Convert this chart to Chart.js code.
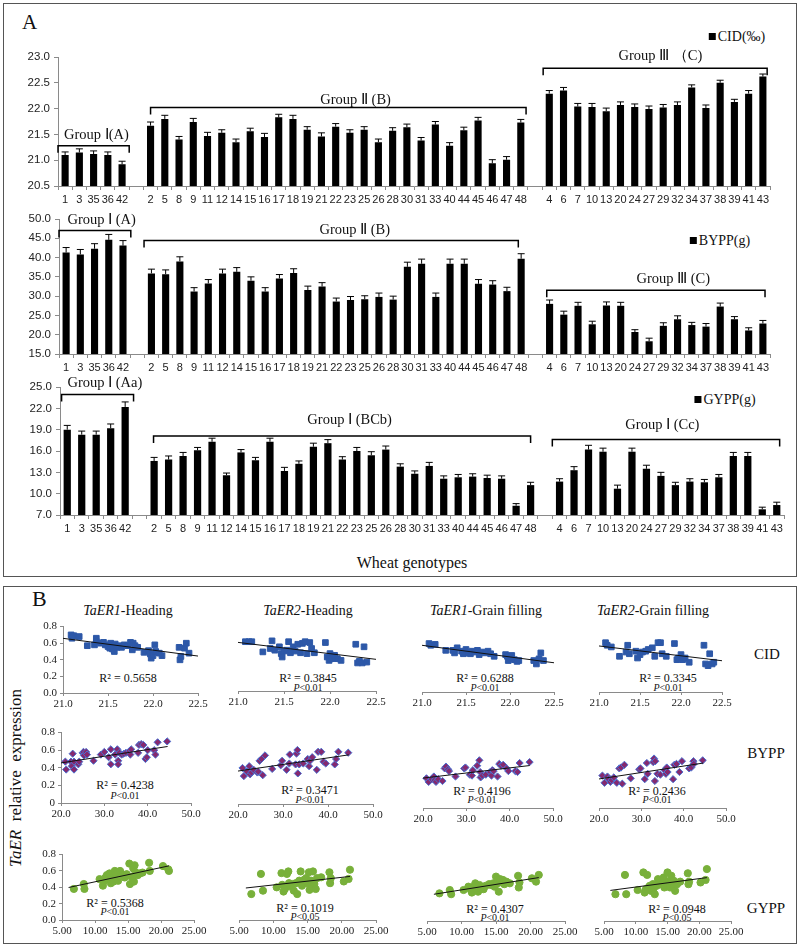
<!DOCTYPE html>
<html>
<head>
<meta charset="utf-8">
<script src="https://cdn.jsdelivr.net/npm/chart.js@4.4.1/dist/chart.umd.min.js"></script>
<style>
body { margin: 0; background: #fff; }
#page { position: relative; width: 800px; height: 947px; font-family: "Liberation Serif", "Times New Roman", serif; color: #111; }
.box { position: absolute; border: 1.5px solid #555; box-sizing: border-box; }
canvas { position: absolute; }
.t { position: absolute; white-space: nowrap; line-height: 1; }
.c { transform: translate(-50%, -50%); }
.sq { display: inline-block; width: 7px; height: 7px; background: #000; margin-right: 2px; vertical-align: 1px; }
.r2 { font-size: 12px; }
.p { font-size: 10px; }
</style>
</head>
<body>
<div id="page">
  <div class="box" style="left:3px;top:3px;width:794px;height:574px"></div>
  <div class="box" style="left:3px;top:586px;width:794px;height:358px"></div>

  <div class="t" style="left:22px;top:12px;font-size:21px">A</div>
  <div class="t" style="left:32px;top:588px;font-size:22px">B</div>

  <div class="t c" style="left:737px;top:37px;font-size:14px"><span class="sq"></span>CID(‰)</div>
  <div class="t c" style="left:720px;top:241px;font-size:14px"><span class="sq"></span>BYPP(g)</div>
  <div class="t c" style="left:725px;top:400px;font-size:14px"><span class="sq"></span>GYPP(g)</div>
  <div class="t c" style="left:412px;top:563px;font-size:16px">Wheat genotypes</div>

  <canvas id="cidBars"></canvas>
  <canvas id="byppBars"></canvas>
  <canvas id="gyppBars"></canvas>

  <!-- panel B -->
  <div class="t c" style="left:128px;top:611px;font-size:14px"><i>TaER1</i>-Heading</div>
  <div class="t c" style="left:308px;top:611px;font-size:14px"><i>TaER2</i>-Heading</div>
  <div class="t c" style="left:486px;top:611px;font-size:14px"><i>TaER1</i>-Grain filling</div>
  <div class="t c" style="left:653px;top:611px;font-size:14px"><i>TaER2</i>-Grain filling</div>

  <div class="t c" style="left:767px;top:654px;font-size:15px">CID</div>
  <div class="t c" style="left:766px;top:753px;font-size:15px">BYPP</div>
  <div class="t c" style="left:766px;top:908px;font-size:15px">GYPP</div>

  <div class="t" style="left:15px;top:778px;font-size:17px;transform:translate(-50%,-50%) rotate(-90deg)"><i>TaER</i>&nbsp; relative&nbsp; expression</div>

  <div class="t c r2" style="left:128px;top:678px">R² = 0.5658</div>
  <div class="t c r2" style="left:308px;top:678px">R² = 0.3845</div>
  <div class="t c p" style="left:308px;top:688px"><i>P</i>&lt;0.01</div>
  <div class="t c r2" style="left:485px;top:678px">R² = 0.6288</div>
  <div class="t c p" style="left:485px;top:688px"><i>P</i>&lt;0.01</div>
  <div class="t c r2" style="left:668px;top:678px">R² = 0.3345</div>
  <div class="t c p" style="left:668px;top:688px"><i>P</i>&lt;0.01</div>

  <div class="t c r2" style="left:125px;top:785px">R² = 0.4238</div>
  <div class="t c p" style="left:125px;top:796px"><i>P</i>&lt;0.01</div>
  <div class="t c r2" style="left:310px;top:790px">R² = 0.3471</div>
  <div class="t c p" style="left:310px;top:800px"><i>P</i>&lt;0.01</div>
  <div class="t c r2" style="left:482px;top:791px">R² = 0.4196</div>
  <div class="t c p" style="left:482px;top:800px"><i>P</i>&lt;0.01</div>
  <div class="t c r2" style="left:657px;top:791px">R² = 0.2436</div>
  <div class="t c p" style="left:657px;top:800px"><i>P</i>&lt;0.01</div>

  <div class="t c r2" style="left:115px;top:903px">R² = 0.5368</div>
  <div class="t c p" style="left:115px;top:912px"><i>P</i>&lt;0.01</div>
  <div class="t c r2" style="left:305px;top:908px">R² = 0.1019</div>
  <div class="t c p" style="left:305px;top:917px"><i>P</i>&lt;0.05</div>
  <div class="t c r2" style="left:495px;top:909px">R² = 0.4307</div>
  <div class="t c p" style="left:495px;top:918px"><i>P</i>&lt;0.01</div>
  <div class="t c r2" style="left:677px;top:909px">R² = 0.0948</div>
  <div class="t c p" style="left:677px;top:918px"><i>P</i>&lt;0.05</div>

  <canvas id="sc0"></canvas><canvas id="sc1"></canvas><canvas id="sc2"></canvas><canvas id="sc3"></canvas>
  <canvas id="sc4"></canvas><canvas id="sc5"></canvas><canvas id="sc6"></canvas><canvas id="sc7"></canvas>
  <canvas id="sc8"></canvas><canvas id="sc9"></canvas><canvas id="sc10"></canvas><canvas id="sc11"></canvas>
</div>

<script>
// genotypes per group (panel A)
const genoI = ['1', '3', '35', '36', '42'];
const genoII = ['2', '5', '8', '9', '11', '12', '14', '15', '16', '17', '18', '19', '21', '22', '23', '25', '26', '28', '30', '31', '33', '40', '44', '45', '46', '47', '48'];
const genoIII = ['4', '6', '7', '10', '13', '20', '24', '27', '29', '32', '34', '37', '38', '39', '41', '43'];

// CID (‰)
const cidI = [21.10, 21.15, 21.12, 21.10, 20.92];
const cidII = [21.67, 21.80, 21.40, 21.74, 21.47, 21.53, 21.35, 21.56, 21.45, 21.83, 21.80, 21.59, 21.46, 21.65, 21.53, 21.59, 21.35, 21.57, 21.64, 21.38, 21.69, 21.28, 21.58, 21.77, 20.94, 21.01, 21.73];
const cidIII = [22.29, 22.35, 22.04, 22.03, 21.95, 22.07, 22.03, 21.99, 22.02, 22.07, 22.41, 22.01, 22.50, 22.13, 22.29, 22.62];
const cidErrI = [0.06, 0.07, 0.06, 0.06, 0.06];
const cidErrII = [0.07, 0.07, 0.06, 0.07, 0.07, 0.06, 0.06, 0.06, 0.07, 0.06, 0.07, 0.06, 0.07, 0.06, 0.06, 0.06, 0.06, 0.06, 0.06, 0.06, 0.06, 0.06, 0.06, 0.06, 0.07, 0.06, 0.06];
const cidErrIII = [0.06, 0.06, 0.06, 0.07, 0.06, 0.06, 0.06, 0.06, 0.06, 0.06, 0.05, 0.06, 0.05, 0.05, 0.06, 0.05];

// BYPP (g)
const byppI = [41.3, 40.8, 42.3, 44.6, 43.1];
const byppII = [35.9, 35.7, 39.0, 31.2, 33.3, 35.9, 36.3, 34.0, 31.2, 34.6, 36.0, 31.6, 32.5, 28.6, 29.0, 29.2, 29.8, 29.1, 37.6, 38.4, 29.8, 38.4, 38.4, 33.2, 33.0, 31.3, 39.7];
const byppIII = [28.0, 25.2, 27.5, 22.7, 27.6, 27.5, 20.7, 18.3, 22.3, 24.0, 22.5, 22.1, 27.3, 24.0, 21.1, 22.9];
const byppErrI = [1.3, 1.3, 1.3, 1.4, 1.3];
const byppErrII = [1.1, 1.1, 1.2, 1.0, 1.0, 1.1, 1.1, 1.0, 1.0, 1.0, 1.1, 1.0, 1.0, 0.9, 0.9, 0.9, 1.0, 0.9, 1.2, 1.2, 1.0, 1.2, 1.2, 1.1, 1.0, 1.0, 1.3];
const byppErrIII = [1.0, 0.9, 0.9, 0.8, 0.9, 0.9, 0.6, 0.8, 0.8, 0.9, 0.7, 0.8, 0.9, 0.7, 0.7, 0.8];

// GYPP (g)
const gyppI = [19.0, 18.3, 18.3, 19.2, 22.2];
const gyppII = [14.6, 14.8, 15.3, 16.1, 17.3, 12.6, 15.8, 14.7, 17.3, 13.2, 14.2, 16.6, 17.1, 14.8, 16.0, 15.4, 16.2, 13.8, 12.8, 13.9, 12.1, 12.3, 12.4, 12.2, 12.1, 8.3, 11.2];
const gyppIII = [11.7, 13.3, 16.2, 15.9, 10.7, 15.9, 13.5, 12.5, 11.2, 11.7, 11.6, 12.3, 15.3, 15.3, 7.8, 8.4];
const gyppErrI = [0.6, 0.5, 0.5, 0.6, 0.7];
const gyppErrII = [0.5, 0.5, 0.5, 0.4, 0.5, 0.3, 0.4, 0.4, 0.5, 0.5, 0.4, 0.5, 0.5, 0.4, 0.5, 0.5, 0.5, 0.4, 0.4, 0.5, 0.4, 0.4, 0.4, 0.4, 0.4, 0.3, 0.4];
const gyppErrIII = [0.4, 0.5, 0.6, 0.5, 0.5, 0.5, 0.5, 0.5, 0.4, 0.4, 0.4, 0.4, 0.5, 0.5, 0.3, 0.4];

// panel B: [trait value, relative expression]
const cidH1 = [[21.09,0.70],[21.12,0.69],[21.10,0.66],[21.18,0.68],[21.27,0.57],[21.35,0.58],[21.37,0.66],[21.37,0.62],[21.42,0.60],[21.45,0.61],[21.47,0.58],[21.50,0.56],[21.52,0.54],[21.53,0.60],[21.55,0.53],[21.57,0.50],[21.58,0.59],[21.60,0.55],[21.62,0.57],[21.65,0.55],[21.68,0.58],[21.72,0.57],[21.75,0.61],[21.77,0.52],[21.78,0.60],[21.80,0.57],[21.83,0.55],[21.90,0.49],[21.95,0.51],[21.97,0.47],[21.98,0.42],[22.00,0.45],[22.02,0.58],[22.03,0.50],[22.07,0.48],[22.10,0.45],[22.29,0.55],[22.30,0.40],[22.31,0.44],[22.35,0.54],[22.37,0.60],[22.40,0.48]];
const cidH2 = [[21.08,0.58],[21.12,0.58],[21.15,0.58],[21.27,0.46],[21.35,0.50],[21.37,0.59],[21.40,0.48],[21.45,0.52],[21.47,0.44],[21.48,0.40],[21.50,0.47],[21.53,0.48],[21.55,0.58],[21.57,0.45],[21.60,0.52],[21.62,0.47],[21.65,0.55],[21.68,0.45],[21.70,0.56],[21.73,0.58],[21.75,0.44],[21.78,0.57],[21.80,0.50],[21.83,0.45],[21.95,0.57],[21.97,0.40],[21.99,0.36],[22.00,0.44],[22.02,0.38],[22.05,0.42],[22.08,0.38],[22.12,0.36],[22.28,0.55],[22.30,0.33],[22.32,0.35],[22.35,0.33],[22.37,0.52],[22.40,0.34]];
const cidG1 = [[21.08,0.57],[21.10,0.55],[21.15,0.56],[21.27,0.49],[21.35,0.49],[21.37,0.46],[21.40,0.52],[21.45,0.48],[21.47,0.45],[21.50,0.50],[21.53,0.46],[21.55,0.45],[21.57,0.48],[21.60,0.47],[21.63,0.49],[21.65,0.44],[21.68,0.47],[21.72,0.46],[21.75,0.48],[21.78,0.45],[21.82,0.42],[21.95,0.44],[21.97,0.42],[21.98,0.37],[22.00,0.40],[22.02,0.43],[22.05,0.38],[22.08,0.36],[22.10,0.37],[22.27,0.37],[22.30,0.33],[22.33,0.39],[22.35,0.46],[22.38,0.37]];
const cidG2 = [[21.08,0.58],[21.10,0.55],[21.15,0.53],[21.25,0.42],[21.33,0.47],[21.35,0.55],[21.37,0.45],[21.45,0.48],[21.47,0.40],[21.50,0.44],[21.53,0.47],[21.57,0.48],[21.60,0.50],[21.65,0.52],[21.68,0.42],[21.72,0.58],[21.75,0.58],[21.77,0.45],[21.82,0.42],[21.92,0.57],[21.95,0.38],[21.97,0.40],[22.00,0.44],[22.02,0.38],[22.05,0.40],[22.10,0.35],[22.28,0.55],[22.30,0.33],[22.33,0.31],[22.35,0.45],[22.38,0.33],[22.40,0.35]];

const byppH1 = [[21.0,0.47],[21.2,0.38],[22.3,0.47],[22.5,0.42],[22.7,0.56],[23.0,0.38],[23.0,0.47],[24.0,0.44],[24.2,0.47],[25.0,0.57],[25.2,0.58],[25.3,0.54],[25.8,0.58],[26.0,0.55],[27.5,0.48],[29.2,0.55],[30.0,0.58],[31.0,0.52],[31.5,0.61],[31.5,0.44],[32.5,0.55],[33.0,0.61],[33.2,0.48],[33.2,0.44],[33.5,0.57],[34.0,0.55],[34.5,0.56],[35.0,0.57],[35.8,0.59],[36.0,0.55],[36.2,0.61],[37.8,0.57],[38.0,0.66],[38.5,0.67],[39.0,0.66],[39.5,0.50],[39.8,0.52],[40.0,0.60],[41.5,0.60],[41.8,0.55],[42.3,0.69],[44.5,0.70]];
const byppH2 = [[21.0,0.40],[21.3,0.31],[22.0,0.36],[22.5,0.42],[22.7,0.33],[23.0,0.35],[23.5,0.38],[24.3,0.35],[24.5,0.36],[24.8,0.48],[25.2,0.50],[25.5,0.32],[26.0,0.54],[27.6,0.39],[29.5,0.43],[29.8,0.48],[30.8,0.38],[31.4,0.45],[31.5,0.55],[32.8,0.44],[33.0,0.56],[33.2,0.60],[33.3,0.34],[33.6,0.44],[34.5,0.45],[35.5,0.50],[35.8,0.42],[36.0,0.48],[36.5,0.52],[37.5,0.38],[37.8,0.58],[38.5,0.58],[39.0,0.47],[39.5,0.45],[41.5,0.44],[41.8,0.50],[42.3,0.58],[44.5,0.57]];
const byppG1 = [[20.8,0.33],[21.3,0.29],[22.0,0.32],[22.5,0.35],[22.7,0.31],[23.0,0.29],[23.5,0.32],[24.5,0.30],[25.0,0.44],[25.3,0.46],[25.8,0.43],[26.0,0.41],[27.5,0.35],[29.5,0.44],[29.8,0.45],[30.8,0.37],[31.3,0.36],[31.5,0.42],[32.5,0.47],[33.0,0.53],[33.2,0.40],[33.3,0.34],[33.7,0.36],[34.5,0.37],[35.5,0.40],[35.8,0.36],[36.0,0.42],[36.3,0.41],[37.2,0.35],[37.6,0.49],[38.0,0.47],[38.5,0.48],[39.3,0.44],[39.7,0.41],[41.3,0.41],[41.8,0.40],[42.3,0.50],[44.6,0.51]];
const byppG2 = [[20.8,0.36],[21.3,0.28],[22.0,0.35],[22.3,0.32],[22.7,0.29],[23.0,0.31],[23.5,0.34],[24.2,0.28],[24.8,0.44],[25.2,0.45],[25.5,0.27],[26.0,0.48],[27.5,0.33],[29.5,0.43],[29.8,0.44],[30.8,0.32],[31.3,0.50],[31.5,0.38],[32.8,0.51],[33.0,0.55],[33.2,0.30],[33.3,0.52],[33.8,0.38],[34.5,0.37],[35.5,0.42],[35.8,0.38],[36.0,0.45],[36.2,0.40],[37.5,0.32],[37.8,0.48],[38.3,0.49],[39.0,0.40],[39.6,0.52],[41.3,0.44],[41.8,0.45],[42.3,0.52],[42.4,0.49],[44.5,0.53]];

const gyppH1 = [[6.8,0.38],[8.3,0.44],[8.4,0.38],[10.7,0.50],[11.2,0.42],[11.3,0.47],[11.6,0.52],[11.8,0.55],[12.0,0.50],[12.2,0.57],[12.4,0.45],[12.5,0.52],[12.8,0.54],[12.8,0.47],[13.0,0.60],[13.2,0.56],[13.5,0.48],[13.8,0.60],[14.2,0.55],[14.5,0.52],[14.8,0.56],[15.2,0.69],[15.3,0.44],[15.5,0.53],[15.8,0.63],[15.9,0.47],[16.0,0.67],[16.2,0.58],[16.3,0.56],[16.5,0.55],[16.8,0.57],[17.2,0.58],[18.2,0.70],[18.3,0.60],[20.3,0.66],[21.1,0.62],[21.2,0.60]];
const gyppH2 = [[6.8,0.31],[8.2,0.55],[8.5,0.35],[10.5,0.39],[11.2,0.56],[11.3,0.42],[11.5,0.34],[11.7,0.37],[12.0,0.55],[12.2,0.58],[12.3,0.44],[12.5,0.40],[12.8,0.43],[13.0,0.35],[13.3,0.44],[13.5,0.31],[13.8,0.47],[14.0,0.58],[14.2,0.41],[14.5,0.48],[14.8,0.50],[15.0,0.44],[15.2,0.57],[15.3,0.36],[15.5,0.47],[15.6,0.40],[15.8,0.58],[16.0,0.43],[16.2,0.37],[16.4,0.50],[17.0,0.51],[18.2,0.57],[18.3,0.44],[18.4,0.50],[20.3,0.46],[21.0,0.49],[21.2,0.60]];
const gyppG1 = [[6.8,0.33],[8.3,0.37],[8.5,0.32],[10.3,0.37],[11.0,0.41],[11.3,0.38],[11.5,0.34],[11.6,0.39],[11.8,0.41],[12.0,0.45],[12.2,0.42],[12.4,0.35],[12.6,0.43],[12.8,0.38],[13.0,0.40],[13.2,0.38],[13.5,0.42],[14.0,0.44],[14.3,0.43],[14.6,0.45],[14.8,0.41],[15.0,0.53],[15.2,0.45],[15.4,0.35],[15.6,0.50],[15.8,0.46],[16.0,0.49],[16.2,0.44],[16.5,0.47],[17.0,0.45],[18.2,0.54],[18.3,0.40],[18.4,0.46],[20.2,0.51],[20.8,0.47],[21.2,0.55]];
const gyppG2 = [[6.8,0.32],[8.3,0.55],[8.5,0.32],[10.3,0.37],[11.2,0.58],[11.4,0.34],[11.6,0.38],[11.8,0.55],[12.0,0.40],[12.2,0.42],[12.4,0.36],[12.7,0.44],[12.8,0.39],[13.0,0.32],[13.3,0.42],[13.5,0.50],[13.8,0.44],[14.2,0.45],[14.4,0.52],[14.5,0.40],[14.8,0.45],[15.0,0.58],[15.2,0.47],[15.4,0.40],[15.6,0.54],[15.8,0.43],[16.0,0.48],[16.2,0.36],[16.5,0.44],[17.0,0.47],[18.2,0.57],[18.3,0.44],[18.4,0.47],[20.2,0.46],[21.0,0.49],[21.2,0.62]];

// x span of the fitted lines in each row
const cidLineX = [21.0, 22.5];
const byppLineX = [20.0, 44.6];
const gyppLineX = [6.0, 21.2];

// one empty slot between groups
const genoLabels = [...genoI, '', ...genoII, '', ...genoIII];
const join3 = (a, b, c) => [...a, null, ...b, null, ...c];

Chart.defaults.font.family = '"Liberation Serif", "Times New Roman", serif';
Chart.defaults.color = '#1a1a1a';
Chart.defaults.animation = false;
Chart.defaults.plugins.legend.display = false;
Chart.defaults.plugins.tooltip.enabled = false;

const axisGrey = '#8a8a8a';

// group brackets, positions in category index / value units
const cidGroups = [
  { from: -0.5, to: 4.5, at: 21.28, text: 'Group Ⅰ(A)', tx: 2.2, ty: 21.49 },
  { from: 6, to: 32.37, at: 22.02, text: 'Group Ⅱ (B)', tx: 20.4, ty: 22.17 },
  { from: 33.57, to: 49.3, at: 22.78, text: 'Group Ⅲ （C)', tx: 41.8, ty: 23.01 }
];
const byppGroups = [
  { from: -0.5, to: 4.55, at: 47.0, text: 'Group Ⅰ (A)', tx: 2.5, ty: 49.8 },
  { from: 5.48, to: 31.8, at: 44.4, text: 'Group Ⅱ (B)', tx: 20.3, ty: 47.2 },
  { from: 33.8, to: 49.15, at: 31.5, text: 'Group Ⅲ (C)', tx: 42.7, ty: 34.3 }
];
const gyppGroups = [
  { from: -0.39, to: 4.58, at: 23.93, text: 'Group Ⅰ (Aa)', tx: 2.6, ty: 25.47 },
  { from: 5.96, to: 32.0, at: 18.1, text: 'Group Ⅰ (BCb)', tx: 19.5, ty: 20.4 },
  { from: 33.5, to: 49.2, at: 17.6, text: 'Group Ⅰ (Cc)', tx: 41.1, ty: 19.7 }
];

// bar chart with error bars and group brackets; area = plot box [left, top, right, bottom]
function barChart(id, values, errors, yMin, yMax, step, area, groups) {
  const padTop = 42, yw = 48, xh = 26, padRight = 6;
  const cv = document.getElementById(id);
  cv.style.left = (area[0] - yw) + 'px';
  cv.style.top = (area[1] - padTop) + 'px';
  cv.width = area[2] - area[0] + yw + padRight;
  cv.height = area[3] - area[1] + padTop + xh;

  new Chart(cv, {
    type: 'bar',
    data: {
      labels: genoLabels,
      datasets: [{ data: values, backgroundColor: '#000', barPercentage: 0.5, categoryPercentage: 1 }]
    },
    options: {
      responsive: false,
      layout: { autoPadding: false, padding: { top: padTop, right: padRight, left: 0, bottom: 0 } },
      scales: {
        x: {
          grid: { drawOnChartArea: false, tickLength: 4, color: axisGrey },
          border: { color: axisGrey },
          ticks: { autoSkip: false, maxRotation: 0, padding: 3, color: '#222', font: { family: '"Liberation Sans", Arial, sans-serif', size: 11 } },
          afterFit: s => { s.height = xh; }
        },
        y: {
          min: yMin, max: yMax,
          grid: { drawOnChartArea: false, tickLength: 4, color: axisGrey },
          border: { color: axisGrey },
          ticks: { stepSize: step, padding: 4, color: '#222', callback: v => v.toFixed(1), font: { family: '"Liberation Sans", Arial, sans-serif', size: 11.5 } },
          afterFit: s => { s.width = yw; }
        }
      }
    },
    plugins: [{
      id: 'extras',
      afterDatasetsDraw(chart) {
        const ctx = chart.ctx, xs = chart.scales.x, ys = chart.scales.y;
        const bars = chart.getDatasetMeta(0).data;
        ctx.save();
        ctx.strokeStyle = '#000';
        ctx.lineWidth = 1;
        // error bars
        values.forEach((v, i) => {
          if (v == null) return;
          const x = bars[i].x, top = ys.getPixelForValue(v + errors[i]);
          ctx.beginPath();
          ctx.moveTo(x, bars[i].y);
          ctx.lineTo(x, top);
          ctx.moveTo(x - 3.5, top);
          ctx.lineTo(x + 3.5, top);
          ctx.stroke();
        });
        // brackets
        const x0 = xs.getPixelForValue(0), slot = xs.getPixelForValue(1) - x0;
        const px = i => x0 + i * slot;
        ctx.lineWidth = 1.5;
        ctx.font = '14.5px "Liberation Serif", "Times New Roman", serif';
        ctx.fillStyle = '#111';
        ctx.textAlign = 'center';
        ctx.textBaseline = 'middle';
        groups.forEach(g => {
          const y = ys.getPixelForValue(g.at);
          ctx.beginPath();
          ctx.moveTo(px(g.from), y + 7);
          ctx.lineTo(px(g.from), y);
          ctx.lineTo(px(g.to), y);
          ctx.lineTo(px(g.to), y + 7);
          ctx.stroke();
          ctx.fillText(g.text, px(g.tx), ys.getPixelForValue(g.ty));
        });
        ctx.restore();
      }
    }]
  });
}

barChart('cidBars', join3(cidI, cidII, cidIII), join3(cidErrI, cidErrII, cidErrIII), 20.5, 23.0, 0.5, [58, 57, 770, 186.7], cidGroups);
barChart('byppBars', join3(byppI, byppII, byppIII), join3(byppErrI, byppErrII, byppErrIII), 15, 50, 5, [58.5, 219.3, 770, 354.7], byppGroups);
barChart('gyppBars', join3(gyppI, gyppII, gyppIII), join3(gyppErrI, gyppErrII, gyppErrIII), 7, 25, 3, [59.5, 387.3, 784, 516], gyppGroups);

// marker looks for the three rows
const cidLook = { style: 'rect', r: 4, fill: '#2D58A8', edge: '#2D58A8', bw: 1 };
const byppLook = { style: 'rectRot', r: 3.6, fill: '#85296F', edge: '#4A6FD0', bw: 1 };
const gyppLook = { style: 'circle', r: 3.6, fill: '#78B03A', edge: '#78B03A', bw: 1 };

// scatter with fitted line; box = [left, right, bottom, height]
function scatterChart(id, pts, look, ax, lineX, box, showY, zeroLabel) {
  const padT = 8, padR = 20, yw = showY ? 30 : 0, padL = showY ? 0 : 20, xh = 18;
  const [L, R, B, H] = box;
  const cv = document.getElementById(id);
  cv.style.left = (L - yw - padL) + 'px';
  cv.style.top = (B - H - padT) + 'px';
  cv.width = R - L + yw + padL + padR;
  cv.height = H + padT + xh;

  // least squares fit
  const n = pts.length;
  const mx = pts.reduce((s, p) => s + p[0], 0) / n;
  const my = pts.reduce((s, p) => s + p[1], 0) / n;
  let sxy = 0, sxx = 0;
  pts.forEach(p => { sxy += (p[0] - mx) * (p[1] - my); sxx += (p[0] - mx) * (p[0] - mx); });
  const b = sxy / sxx, a = my - b * mx;

  new Chart(cv, {
    type: 'scatter',
    data: {
      datasets: [
        { data: lineX.map(x => ({ x: x, y: a + b * x })), showLine: true, borderColor: '#111', borderWidth: 1, pointRadius: 0, clip: false },
        { data: pts.map(p => ({ x: p[0], y: p[1] })), pointStyle: look.style, pointRadius: look.r, backgroundColor: look.fill, borderColor: look.edge, borderWidth: look.bw, clip: false }
      ]
    },
    options: {
      responsive: false,
      layout: { autoPadding: false, padding: { top: padT, right: padR, left: padL, bottom: 0 } },
      scales: {
        x: {
          type: 'linear', min: ax.min, max: ax.max,
          grid: { drawOnChartArea: false, tickLength: 3, color: axisGrey },
          border: { color: axisGrey },
          ticks: { stepSize: ax.step, padding: 2, autoSkip: false, maxRotation: 0, minRotation: 0, color: '#222', callback: v => v.toFixed(ax.dec), font: { size: 11 } },
          afterFit: s => { s.height = xh; }
        },
        y: {
          display: showY, min: 0, max: 0.8,
          grid: { drawOnChartArea: false, tickLength: 3, color: axisGrey },
          border: { color: axisGrey },
          ticks: { stepSize: 0.2, padding: 3, color: '#222', callback: v => (zeroLabel && Math.abs(v) < 1e-9) ? '0' : v.toFixed(1), font: { size: 11 } },
          afterFit: s => { s.width = yw; }
        }
      }
    }
  });
}

const cidAx = { min: 21.0, max: 22.5, step: 0.5, dec: 1 };
const byppAx = { min: 20, max: 50, step: 10, dec: 1 };
const gyppAx = { min: 5, max: 25, step: 5, dec: 2 };

scatterChart('sc0', cidH1, cidLook, cidAx, cidLineX, [63, 198, 693, 68], true, false);
scatterChart('sc1', cidH2, cidLook, cidAx, cidLineX, [238, 376, 691, 68], false, false);
scatterChart('sc2', cidG1, cidLook, cidAx, cidLineX, [422, 554, 692, 68], false, false);
scatterChart('sc3', cidG2, cidLook, cidAx, cidLineX, [599, 722, 692, 68], false, false);

scatterChart('sc4', byppH1, byppLook, byppAx, byppLineX, [61, 191, 804, 72.6], true, true);
scatterChart('sc5', byppH2, byppLook, byppAx, byppLineX, [238, 373, 805, 72.6], false, false);
scatterChart('sc6', byppG1, byppLook, byppAx, byppLineX, [423, 553, 809, 72.6], false, false);
scatterChart('sc7', byppG2, byppLook, byppAx, byppLineX, [599, 726, 809, 72.6], false, false);

scatterChart('sc8', gyppH1, gyppLook, gyppAx, gyppLineX, [62, 194, 920, 67], true, false);
scatterChart('sc9', gyppH2, gyppLook, gyppAx, gyppLineX, [239, 376, 920, 67], false, false);
scatterChart('sc10', gyppG1, gyppLook, gyppAx, gyppLineX, [427, 565, 921, 67], false, false);
scatterChart('sc11', gyppG2, gyppLook, gyppAx, gyppLineX, [604, 731, 921, 67], false, false);
</script>
</body>
</html>
